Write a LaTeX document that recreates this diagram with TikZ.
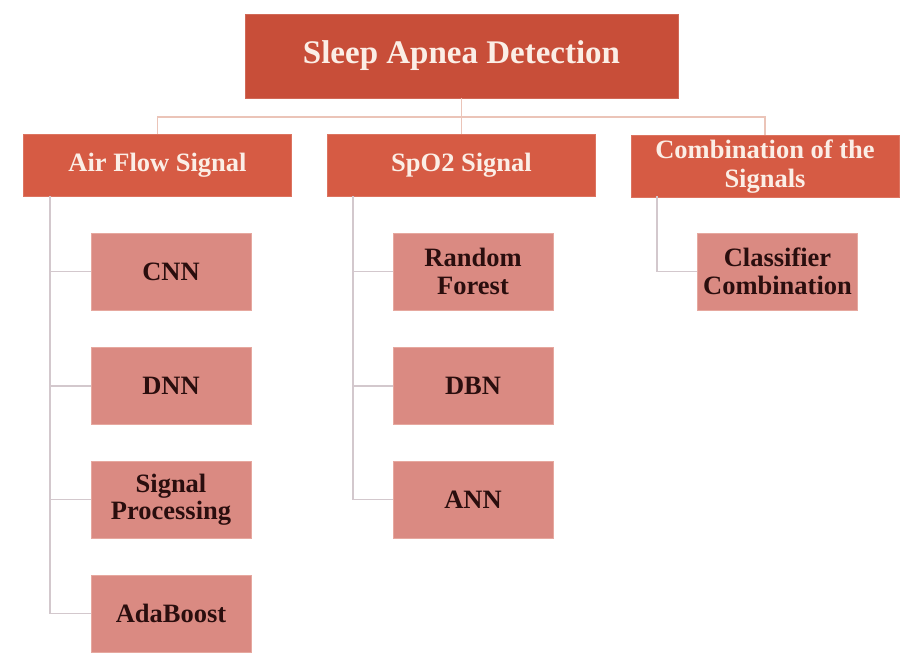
\documentclass[tikz,border=0pt]{standalone}
\usepackage{fontspec}
\setmainfont{Liberation Serif}
\definecolor{topfill}{HTML}{C84E39}
\definecolor{midfill}{HTML}{D65B44}
\definecolor{leaffill}{HTML}{DA8A82}
\definecolor{leafedge}{HTML}{E6A89F}
\definecolor{busline}{HTML}{EBC4B8}
\definecolor{trunkline}{HTML}{D3C8CD}
\definecolor{lighttext}{HTML}{FBEEE6}
\definecolor{darktext}{HTML}{2A0E0E}
\tikzset{
  topbox/.style={fill=topfill, draw=topfill!85!white, line width=0.8pt, minimum width=433pt, minimum height=84pt,
    text=lighttext, font=\bfseries\fontsize{33}{36}\selectfont, inner sep=0pt},
  midbox/.style={fill=midfill, draw=midfill!85!white, line width=0.8pt, minimum width=268pt, minimum height=62pt,
    text=lighttext, font=\bfseries\fontsize{26.5}{29}\selectfont, align=center, inner sep=0pt},
  leafbox/.style={fill=leaffill, draw=leafedge, line width=0.8pt, minimum width=160pt, minimum height=77pt,
    text=darktext, font=\bfseries\fontsize{26.5}{27.5}\selectfont, align=center, inner sep=0pt},
  bus/.style={draw=busline, line width=1.6pt},
  trunk/.style={draw=trunkline, line width=1.5pt}
}
\begin{document}
\begin{tikzpicture}[x=1pt,y=-1pt]
\useasboundingbox (0,0) rectangle (901,654);
\fill[white] (0,0) rectangle (901,654);
\coordinate (bus) at (461.5,117);
\coordinate (airT) at (50,196);
\coordinate (spoT) at (353,196);
\coordinate (comT) at (657,196);
% nodes
\node[topbox] (top) at (461.5,56) {Sleep Apnea Detection};
\node[midbox] (air) at (157.5,165.5) {Air Flow Signal};
\node[midbox] (spo) at (461.5,165.5) {SpO2 Signal};
\node[midbox] (com) at (765,166.5) {Combination of the\\Signals};
\node[leafbox] (cnn) at (171,271.5) {CNN};
\node[leafbox] (dnn) at (171,386) {DNN};
\node[leafbox] (sp) at (171,499.5) {Signal\\Processing};
\node[leafbox] (ada) at (171,613.5) {AdaBoost};
\node[leafbox] (rf) at (473,271.5) {Random\\Forest};
\node[leafbox] (dbn) at (473,386) {DBN};
\node[leafbox] (ann) at (473,499.5) {ANN};
\node[leafbox] (cc) at (777.5,271.5) {Classifier\\Combination};
% connectors
\draw[bus] (air.north) |- (bus) -| (com.north);
\draw[bus] (top.south) -- (spo.north);
\draw[trunk] (airT) |- (ada.west);
\draw[trunk] (airT |- cnn.west) -- (cnn.west);
\draw[trunk] (airT |- dnn.west) -- (dnn.west);
\draw[trunk] (airT |- sp.west) -- (sp.west);
\draw[trunk] (spoT) |- (ann.west);
\draw[trunk] (spoT |- rf.west) -- (rf.west);
\draw[trunk] (spoT |- dbn.west) -- (dbn.west);
\draw[trunk] (comT) |- (cc.west);
\end{tikzpicture}
\end{document}
